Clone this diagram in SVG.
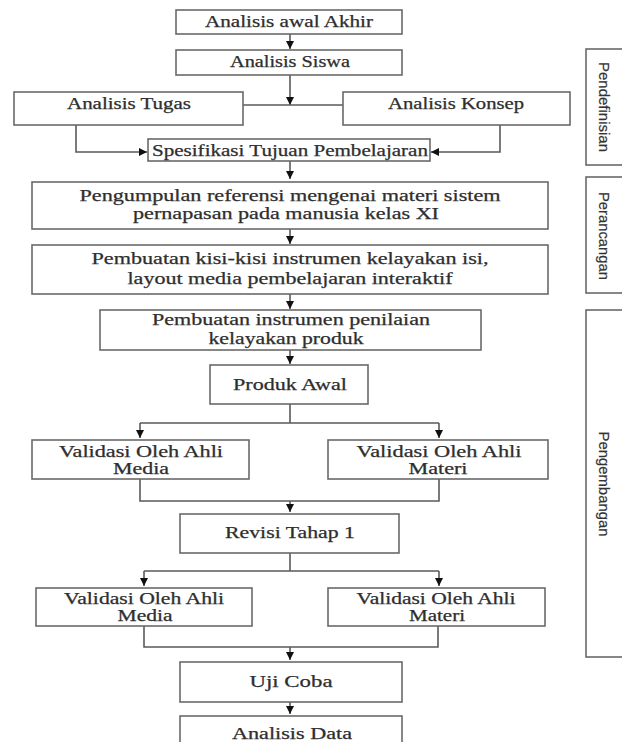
<svg xmlns="http://www.w3.org/2000/svg" width="622" height="742" viewBox="0 0 622 742">
<defs>
<style>
.box{fill:#fff;stroke:#6a6a6a;stroke-width:1.6}
.t{font-family:"Liberation Serif","Times New Roman",serif;font-size:16px;fill:#2e2e2e;stroke:#2e2e2e;stroke-width:0.25;text-anchor:middle}
.s{font-family:"Liberation Sans",Arial,sans-serif;font-size:15px;fill:#333;stroke:#333;stroke-width:0.2;text-anchor:middle;dominant-baseline:central}
.ln{fill:none;stroke:#5a5a5a;stroke-width:1.6}
.ar{fill:none;stroke:#5a5a5a;stroke-width:1.6;marker-end:url(#ah)}
</style>
<marker id="ah" viewBox="0 0 10 10" refX="10" refY="5" markerWidth="8" markerHeight="8" markerUnits="userSpaceOnUse" orient="auto">
<path d="M0,0 L10,5 L0,10 z" fill="#111"/>
</marker>
</defs>
<rect width="622" height="742" fill="#fff"/>

<g id="connectors">
<path class="ar" d="M290,34 V49"/>
<path class="ar" d="M290,75 V105"/>
<path class="ln" d="M243,105 H343"/>
<path class="ar" d="M76,125 V152 H147"/>
<path class="ar" d="M500,125 V152 H431"/>
<path class="ar" d="M290,161 V179"/>
<path class="ar" d="M290,229 V244"/>
<path class="ar" d="M290,294 V309"/>
<path class="ar" d="M290,350 V364"/>
<path class="ln" d="M290,404 V423 M140,423 H439"/>
<path class="ar" d="M140,423 V438"/>
<path class="ar" d="M439,423 V438"/>
<path class="ln" d="M140,479 V501 H439 V479"/>
<path class="ar" d="M290,501 V512"/>
<path class="ln" d="M290,553 V571 M144,571 H439"/>
<path class="ar" d="M144,571 V586"/>
<path class="ar" d="M439,571 V586"/>
<path class="ln" d="M144,626 V647 H438 V626"/>
<path class="ar" d="M290,647 V660"/>
<path class="ar" d="M290,702 V714"/>
</g>

<g id="n-analisis-awal"><rect class="box" x="176" y="10" width="226" height="24"/><text class="t" x="289" y="27" textLength="168" lengthAdjust="spacingAndGlyphs">Analisis awal Akhir</text></g>
<g id="n-analisis-siswa"><rect class="box" x="176" y="50" width="226" height="25"/><text class="t" x="290" y="67" textLength="120" lengthAdjust="spacingAndGlyphs">Analisis Siswa</text></g>
<g id="n-analisis-tugas"><rect class="box" x="14" y="92" width="229" height="33"/><text class="t" x="129" y="109" textLength="124" lengthAdjust="spacingAndGlyphs">Analisis Tugas</text></g>
<g id="n-analisis-konsep"><rect class="box" x="343" y="92" width="227" height="33"/><text class="t" x="456" y="109" textLength="136" lengthAdjust="spacingAndGlyphs">Analisis Konsep</text></g>
<g id="n-spesifikasi"><rect class="box" x="148" y="139" width="282" height="22"/><text class="t" x="290" y="156" textLength="276" lengthAdjust="spacingAndGlyphs">Spesifikasi Tujuan Pembelajaran</text></g>
<g id="n-pengumpulan"><rect class="box" x="32" y="182" width="516" height="47"/><text class="t" x="290" y="201" textLength="421" lengthAdjust="spacingAndGlyphs">Pengumpulan referensi mengenai materi sistem</text><text class="t" x="286" y="219" textLength="306" lengthAdjust="spacingAndGlyphs">pernapasan pada manusia kelas XI</text></g>
<g id="n-kisi"><rect class="box" x="32" y="245" width="516" height="49"/><text class="t" x="290" y="264" textLength="397" lengthAdjust="spacingAndGlyphs">Pembuatan kisi-kisi instrumen kelayakan isi,</text><text class="t" x="290" y="284" textLength="325" lengthAdjust="spacingAndGlyphs">layout media pembelajaran interaktif</text></g>
<g id="n-instrumen"><rect class="box" x="100" y="310" width="381" height="40"/><text class="t" x="291" y="325" textLength="278" lengthAdjust="spacingAndGlyphs">Pembuatan instrumen penilaian</text><text class="t" x="286" y="344" textLength="155" lengthAdjust="spacingAndGlyphs">kelayakan produk</text></g>
<g id="n-produk-awal"><rect class="box" x="210" y="365" width="158" height="39"/><text class="t" x="290" y="390" textLength="114" lengthAdjust="spacingAndGlyphs">Produk Awal</text></g>
<g id="n-val-media-1"><rect class="box" x="32" y="440" width="217" height="39"/><text class="t" x="141" y="457" textLength="164" lengthAdjust="spacingAndGlyphs">Validasi Oleh Ahli</text><text class="t" x="141" y="474" textLength="56" lengthAdjust="spacingAndGlyphs">Media</text></g>
<g id="n-val-materi-1"><rect class="box" x="328" y="440" width="220" height="39"/><text class="t" x="439" y="457" textLength="165" lengthAdjust="spacingAndGlyphs">Validasi Oleh Ahli</text><text class="t" x="438" y="474" textLength="59" lengthAdjust="spacingAndGlyphs">Materi</text></g>
<g id="n-revisi"><rect class="box" x="180" y="514" width="219" height="39"/><text class="t" x="290" y="538" textLength="130" lengthAdjust="spacingAndGlyphs">Revisi Tahap 1</text></g>
<g id="n-val-media-2"><rect class="box" x="36" y="588" width="216" height="38"/><text class="t" x="144" y="604" textLength="160" lengthAdjust="spacingAndGlyphs">Validasi Oleh Ahli</text><text class="t" x="145" y="621" textLength="55" lengthAdjust="spacingAndGlyphs">Media</text></g>
<g id="n-val-materi-2"><rect class="box" x="328" y="588" width="217" height="38"/><text class="t" x="436" y="604" textLength="159" lengthAdjust="spacingAndGlyphs">Validasi Oleh Ahli</text><text class="t" x="437" y="621" textLength="56" lengthAdjust="spacingAndGlyphs">Materi</text></g>
<g id="n-uji-coba"><rect class="box" x="180" y="662" width="222" height="40"/><text class="t" x="291" y="687" textLength="83" lengthAdjust="spacingAndGlyphs">Uji Coba</text></g>
<g id="n-analisis-data"><rect class="box" x="180" y="716" width="222" height="40"/><text class="t" x="292" y="739" textLength="120" lengthAdjust="spacingAndGlyphs">Analisis Data</text></g>

<g id="phase-pendefinisian"><rect class="box" x="586" y="49" width="50" height="116"/><text class="s" transform="translate(604,107) rotate(90)" textLength="90" lengthAdjust="spacingAndGlyphs">Pendefinisian</text></g>
<g id="phase-perancangan"><rect class="box" x="586" y="177" width="50" height="116"/><text class="s" transform="translate(604,236) rotate(90)" textLength="88" lengthAdjust="spacingAndGlyphs">Perancangan</text></g>
<g id="phase-pengembangan"><rect class="box" x="586" y="310" width="50" height="347"/><text class="s" transform="translate(604,484) rotate(90)" textLength="105" lengthAdjust="spacingAndGlyphs">Pengembangan</text></g>
</svg>
